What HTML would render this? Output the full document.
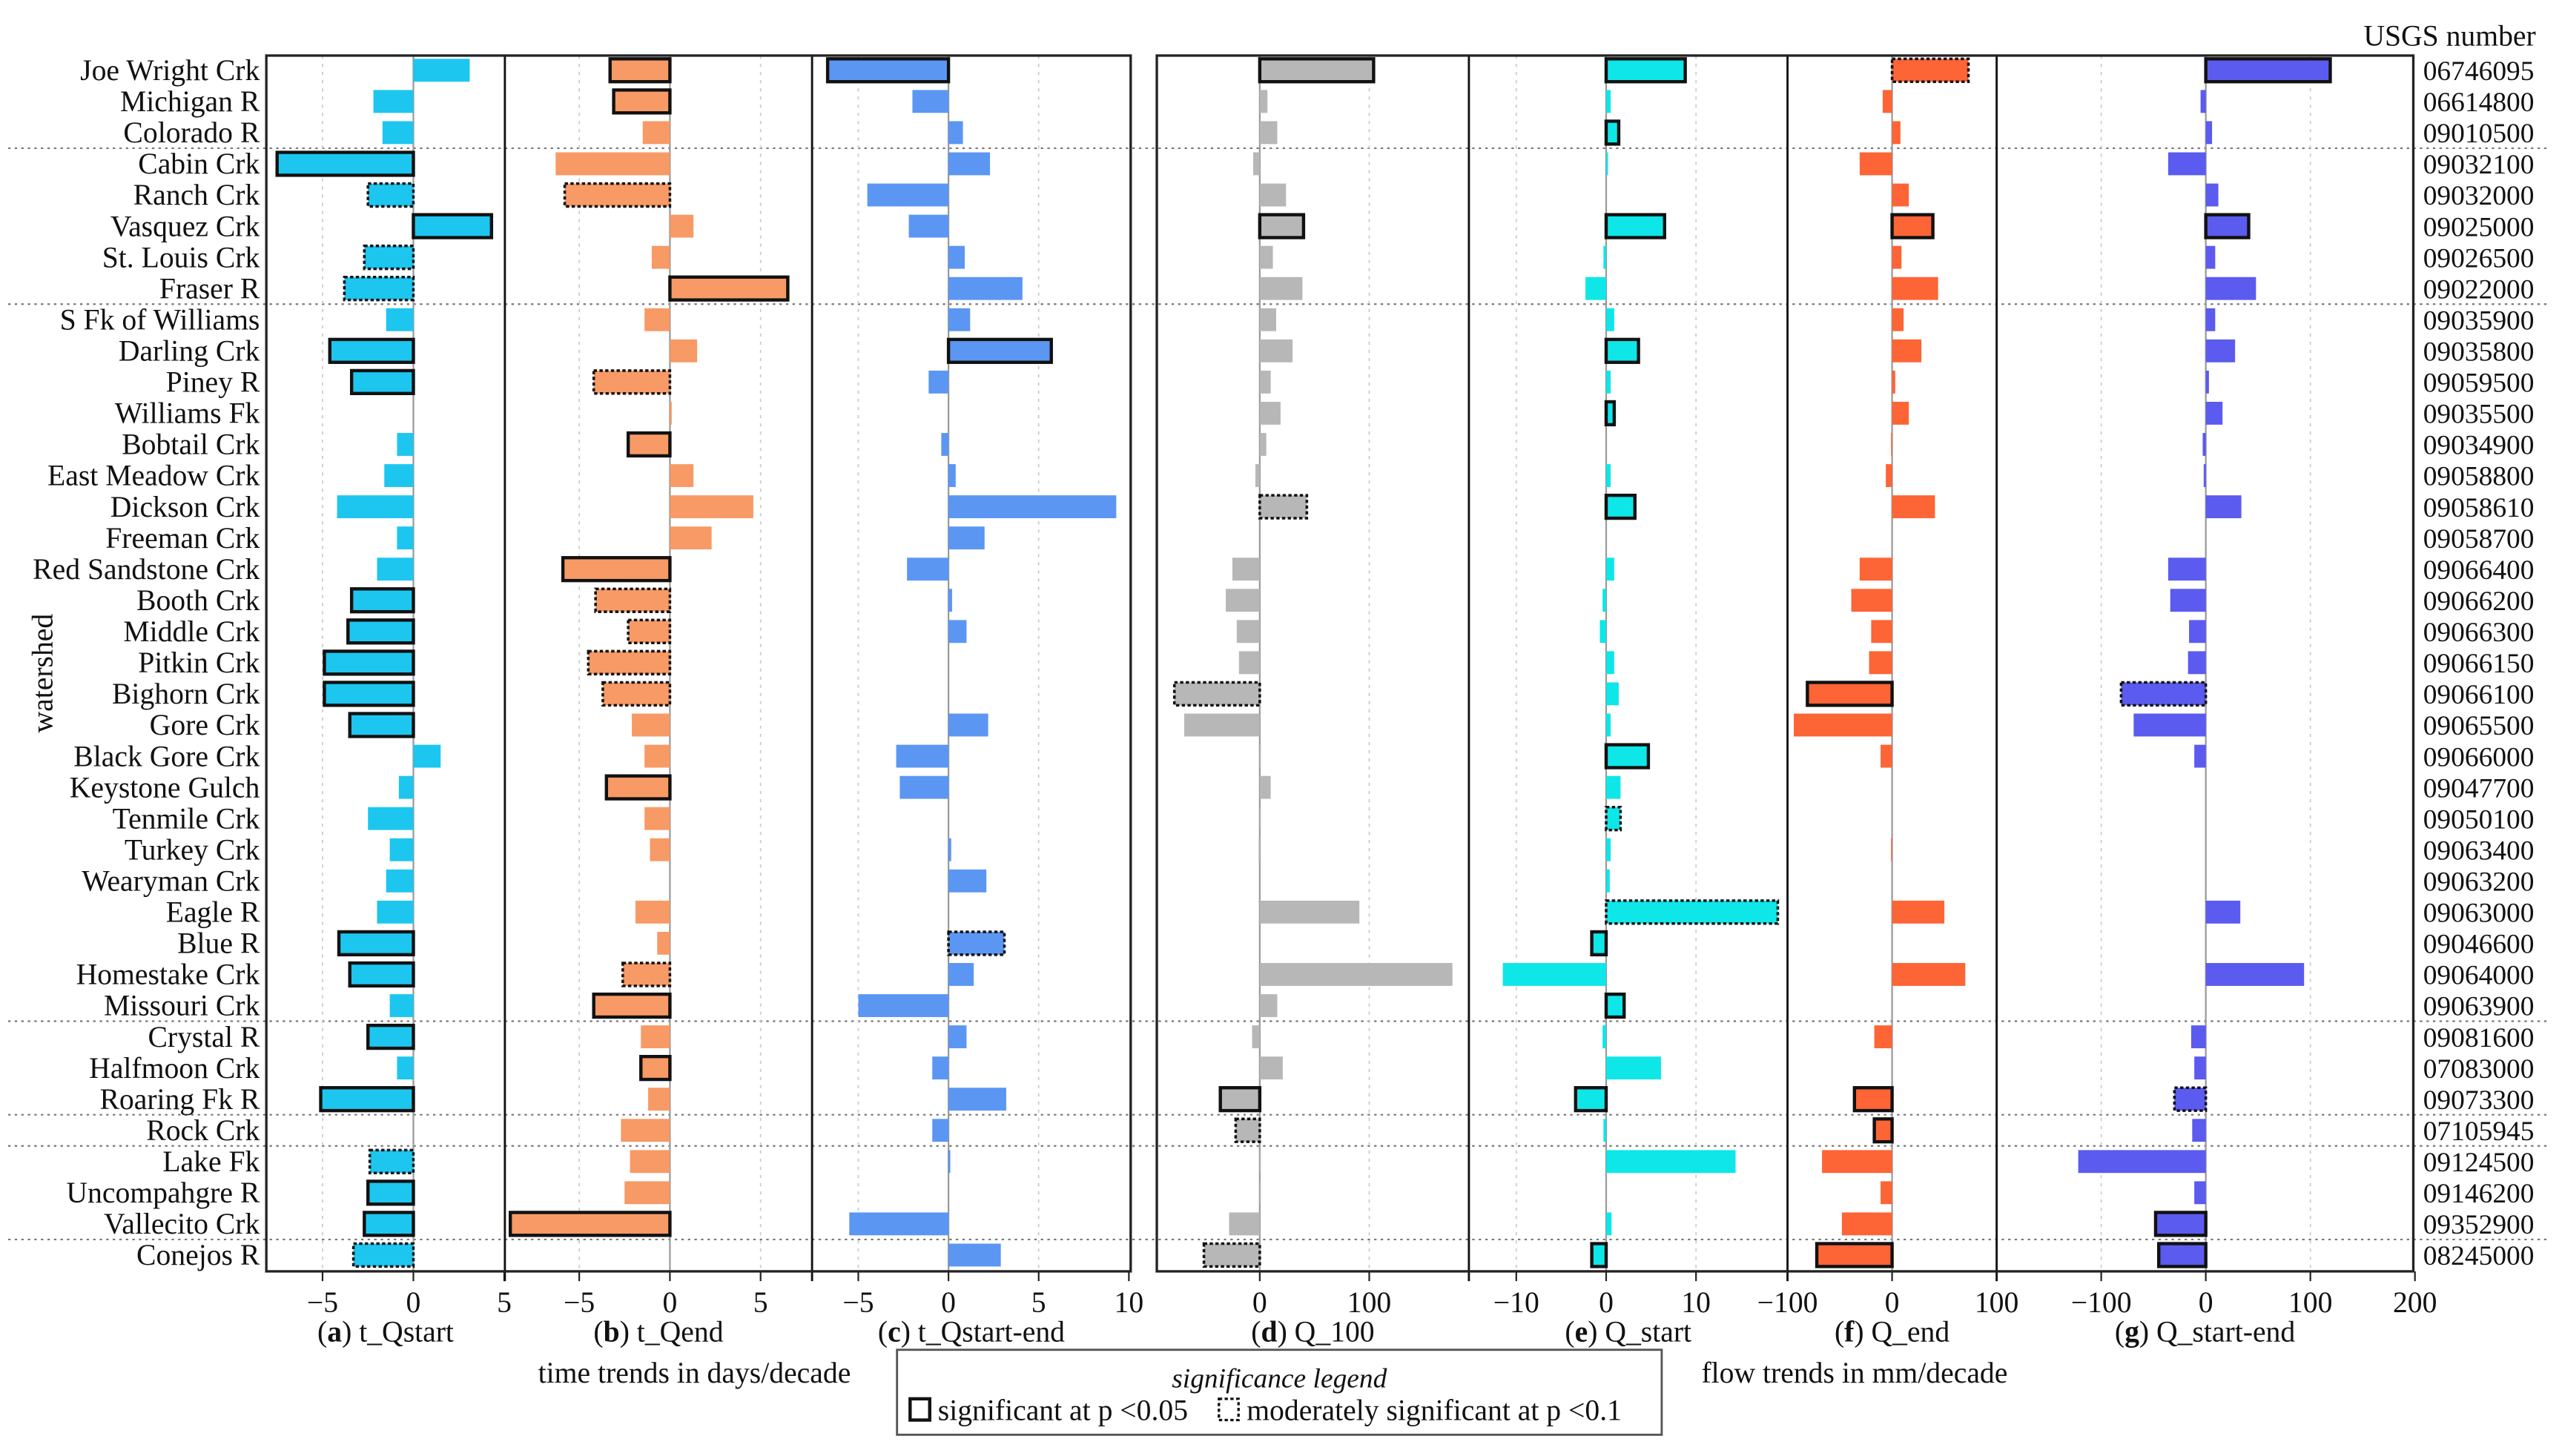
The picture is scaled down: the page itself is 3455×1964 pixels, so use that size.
<!DOCTYPE html>
<html><head><meta charset="utf-8"><style>
html,body{margin:0;padding:0;background:#fff;}
svg{display:block;font-family:"Liberation Serif",serif;}
</style></head><body>
<svg id="chart" width="3455" height="1964" viewBox="0 0 1568 891" preserveAspectRatio="none" xmlns="http://www.w3.org/2000/svg"></svg>
<script>
const names=["Joe Wright Crk","Michigan R","Colorado R","Cabin Crk","Ranch Crk","Vasquez Crk","St. Louis Crk","Fraser R","S Fk of Williams","Darling Crk","Piney R","Williams Fk","Bobtail Crk","East Meadow Crk","Dickson Crk","Freeman Crk","Red Sandstone Crk","Booth Crk","Middle Crk","Pitkin Crk","Bighorn Crk","Gore Crk","Black Gore Crk","Keystone Gulch","Tenmile Crk","Turkey Crk","Wearyman Crk","Eagle R","Blue R","Homestake Crk","Missouri Crk","Crystal R","Halfmoon Crk","Roaring Fk R","Rock Crk","Lake Fk","Uncompahgre R","Vallecito Crk","Conejos R"];
const usgs=["06746095","06614800","09010500","09032100","09032000","09025000","09026500","09022000","09035900","09035800","09059500","09035500","09034900","09058800","09058610","09058700","09066400","09066200","09066300","09066150","09066100","09065500","09066000","09047700","09050100","09063400","09063200","09063000","09046600","09064000","09063900","09081600","07083000","09073300","07105945","09124500","09146200","09352900","08245000"];
const separatorsAfter=[2,7,30,33,34,37];
const tQstart=[3.1,-2.2,-1.7,-7.5,-2.5,4.3,-2.7,-3.8,-1.5,-4.6,-3.4,0,-0.9,-1.6,-4.2,-0.9,-2.0,-3.4,-3.6,-4.9,-4.9,-3.5,1.5,-0.8,-2.5,-1.3,-1.5,-2.0,-4.1,-3.5,-1.3,-2.5,-0.9,-5.1,0,-2.4,-2.5,-2.7,-3.3];
const tQstartSig=[0,0,0,1,2,1,2,2,0,1,1,0,0,0,0,0,0,1,1,1,1,1,0,0,0,0,0,0,1,1,0,1,0,1,0,2,1,1,2];
const tQend=[-3.3,-3.1,-1.5,-6.3,-5.8,1.3,-1.0,6.5,-1.4,1.5,-4.2,0.1,-2.3,1.3,4.6,2.3,-5.9,-4.1,-2.3,-4.5,-3.7,-2.1,-1.4,-3.5,-1.4,-1.1,0,-1.9,-0.7,-2.6,-4.2,-1.6,-1.6,-1.2,-2.7,-2.2,-2.5,-8.8,0];
const tQendSig=[1,1,0,0,2,0,0,1,0,0,2,0,1,0,0,0,1,2,2,2,2,0,0,1,0,0,0,0,0,2,1,0,1,0,0,0,0,1,0];
const tQse=[-6.7,-2.0,0.8,2.3,-4.5,-2.2,0.9,4.1,1.2,5.7,-1.1,0,-0.4,0.4,9.3,2.0,-2.3,0.2,1.0,0,0,2.2,-2.9,-2.7,0,0.15,2.1,0,3.1,1.4,-5.0,1.0,-0.9,3.2,-0.9,0.1,0,-5.5,2.9];
const tQseSig=[1,0,0,0,0,0,0,0,0,1,0,0,0,0,0,0,0,0,0,0,0,0,0,0,0,0,0,0,2,0,0,0,0,0,0,0,0,0,0];
const q100=[104,7,16,-6,24,40,12,39,15,30,10,19,6,-4,43,0,-25,-31,-21,-19,-78,-69,1,10,1,-1,0,91,0,176,16,-7,21,-36,-22,1,1,-28,-51];
const q100Sig=[1,0,0,0,0,1,0,0,0,0,0,0,0,0,2,0,0,0,0,0,2,0,0,0,0,0,0,0,0,0,0,0,0,1,2,0,0,0,2];
const qStart=[8.8,0.5,1.4,0.2,0,6.5,-0.3,-2.3,0.9,3.6,0.5,0.9,0,0.5,3.2,0,0.9,-0.4,-0.7,0.9,1.4,0.5,4.7,1.6,1.6,0.5,0.4,19.1,-1.6,-11.5,2.0,-0.4,6.1,-3.4,-0.3,14.4,0,0.6,-1.6];
const qStartSig=[1,0,1,0,0,1,0,0,0,1,0,1,0,0,1,0,0,0,0,0,0,0,1,0,2,0,0,2,1,0,1,0,0,1,0,0,0,0,1];
const qEnd=[73,-9,8,-31,16,39,9,44,11,28,3,16,-1,-6,41,0,-31,-39,-20,-22,-81,-94,-11,0,0,-1,0,50,0,70,0,-17,0,-36,-17,-67,-11,-48,-72];
const qEndSig=[2,0,0,0,0,1,0,0,0,0,0,0,0,0,0,0,0,0,0,0,1,0,0,0,0,0,0,0,0,0,0,0,0,1,1,0,0,0,1];
const qSE=[119,-5,6,-36,12,41,9,48,9,28,3,16,-3,-2,34,0,-36,-34,-16,-17,-81,-69,-11,0,0,0,0,33,0,94,0,-14,-11,-30,-13,-122,-11,-48,-45];
const qSESig=[1,0,0,0,0,1,0,0,0,0,0,0,0,0,0,0,0,0,0,0,2,0,0,0,0,0,0,0,0,0,0,0,0,2,0,0,0,1,1];
const ticksA=[-5,0,5],ticksB=[-5,0,5],ticksC=[-5,0,5,10],ticksD=[0,100],ticksE=[-10,0,10],ticksF=[-100,0,100],ticksG=[-100,0,100,200];
const gridA=[-5,0],gridB=[-5,0,5],gridC=[-5,0,5],gridD=[0,100],gridE=[-10,0,10],gridF=[0],gridG=[-100,0,100];

const NS="http://www.w3.org/2000/svg";
const svg=document.getElementById('chart');
function mk(tag,attrs,parent){const e=document.createElementNS(NS,tag);for(const k in attrs)e.setAttribute(k,attrs[k]);(parent||svg).appendChild(e);return e;}
const TOP=34,BOT=778,Y0=43,STEP=19.08;
function yRow(i){return Y0+i*STEP;}
function linScale(v0,p0,v1,p1){return v=>p0+(v-v0)*(p1-p0)/(v1-v0);}
const panels=[
 {key:'a',title:'t_Qstart',vals:tQstart,sig:tQstartSig,x:linScale(0,253,5,308.6),left:163,right:309,color:'#1cc6ef',ticks:ticksA,grid:gridA},
 {key:'b',title:'t_Qend',vals:tQend,sig:tQendSig,x:linScale(0,410,5,465.5),left:309,right:497,color:'#f79a66',ticks:ticksB,grid:gridB},
 {key:'c',title:'t_Qstart-end',vals:tQse,sig:tQseSig,x:linScale(0,580.5,5,635.7),left:497,right:692,color:'#5b96f3',ticks:ticksC,grid:gridC},
 {key:'d',title:'Q_100',vals:q100,sig:q100Sig,x:linScale(0,771,100,838),left:708,right:899,color:'#b7b7b7',ticks:ticksD,grid:gridD},
 {key:'e',title:'Q_start',vals:qStart,sig:qStartSig,x:linScale(0,983,10,1038),left:899,right:1094,color:'#0fe6e8',ticks:ticksE,grid:gridE},
 {key:'f',title:'Q_end',vals:qEnd,sig:qEndSig,x:linScale(0,1158,100,1222),left:1094,right:1222,color:'#fd6436',ticks:ticksF,grid:gridF},
 {key:'g',title:'Q_start-end',vals:qSE,sig:qSESig,x:linScale(0,1350,100,1414),left:1222,right:1477,color:'#5b5bef',ticks:ticksG,grid:gridG}
];
separatorsAfter.forEach(i=>{const y=(yRow(i)+yRow(i+1))/2;
 const l=mk('line',{x1:5,x2:1560,y1:y,y2:y,stroke:'#777','stroke-width':1,'stroke-dasharray':'1.5,2.5'});
 
 });
panels.forEach(p=>{
 const g=mk('g',{});
 
 
 p.grid.forEach(t=>{const x=p.x(t);if(t===0)return;
  const l=mk('line',{x1:x,x2:x,y1:TOP,y2:BOT,stroke:'#ccc','stroke-width':0.8,'stroke-dasharray':'2,3'},g);
  
  });
 const z=p.x(0);
 const zl=mk('line',{x1:z,x2:z,y1:TOP,y2:BOT,stroke:'#999','stroke-width':1},g);
 
 
 p.vals.forEach((v,i)=>{if(v===0)return;
  const x1=Math.min(p.x(0),p.x(v)),w=Math.abs(p.x(v)-p.x(0));const y=yRow(i)-7;
  const a={x:x1,y:y,width:w,height:14,fill:p.color};
  if(p.sig[i]===1){a.stroke='#111';a['stroke-width']=2;}
  if(p.sig[i]===2){a.stroke='#111';a['stroke-width']=1.6;a['stroke-dasharray']='2,1.5';}
  const r=mk('rect',a,g);
  
  });
 p.ticks.forEach(t=>{const x=p.x(t);
  mk('line',{x1:x,x2:x,y1:BOT,y2:BOT+6,stroke:'#222','stroke-width':1},g);
  const tx=mk('text',{x:x,y:803,'font-size':18,'text-anchor':'middle',fill:'#111'},g);
  tx.textContent=(t<0?'\u2212':'')+Math.abs(t);
  
  });
 const tl=mk('text',{x:(p.left+p.right)/2,y:821,'font-size':18,'text-anchor':'middle',fill:'#111'},g);
 tl.innerHTML='(<tspan font-weight="bold">'+p.key+'</tspan>) '+p.title;
 
 
});
[309,497,899,1094,1222].forEach(x=>{const l=mk('line',{x1:x,x2:x,y1:TOP,y2:BOT+6,stroke:'#111','stroke-width':1.3});
 
 });
[[163,692],[708,1477]].forEach(b=>{const r=mk('rect',{x:b[0],y:TOP,width:b[1]-b[0],height:BOT-TOP,fill:'none',stroke:'#222','stroke-width':1.5});
 
 });
names.forEach((n,i)=>{const t=mk('text',{x:159,y:yRow(i)+6,'font-size':18,'text-anchor':'end',fill:'#111'});t.textContent=n;
 
 });
usgs.forEach((n,i)=>{const t=mk('text',{x:1483,y:yRow(i)+6,'font-size':17,fill:'#111'});t.textContent=n;
 
 });
</script>
<svg width="3455" height="1964" viewBox="0 0 1568 891" preserveAspectRatio="none" style="position:absolute;left:0;top:0;font-family:'Liberation Serif',serif" xmlns="http://www.w3.org/2000/svg">
<text x="1552" y="28" font-size="18" text-anchor="end" fill="#111">USGS number</text>
<text x="0" y="0" font-size="18" text-anchor="middle" fill="#111" transform="translate(32,412) rotate(-90)">watershed</text>
<text x="425" y="846" font-size="18" text-anchor="middle" fill="#111">time trends in days/decade</text>
<text x="1135" y="846" font-size="18" text-anchor="middle" fill="#111">flow trends in mm/decade</text>
<g>
<rect x="549" y="826" width="468" height="52" fill="#fff" stroke="#555" stroke-width="1.3"/>
<text x="783" y="849" font-size="17" font-style="italic" text-anchor="middle" fill="#111">significance legend</text>
<rect x="557" y="856" width="12" height="13" fill="none" stroke="#111" stroke-width="2"/>
<text x="574" y="869" font-size="18" fill="#111">significant at p &lt;0.05</text>
<rect x="746" y="856" width="12" height="13" fill="none" stroke="#111" stroke-width="1.5" stroke-dasharray="2,1.5"/>
<text x="763" y="869" font-size="18" fill="#111">moderately significant at p &lt;0.1</text>
</g>
</svg>
</body></html>
